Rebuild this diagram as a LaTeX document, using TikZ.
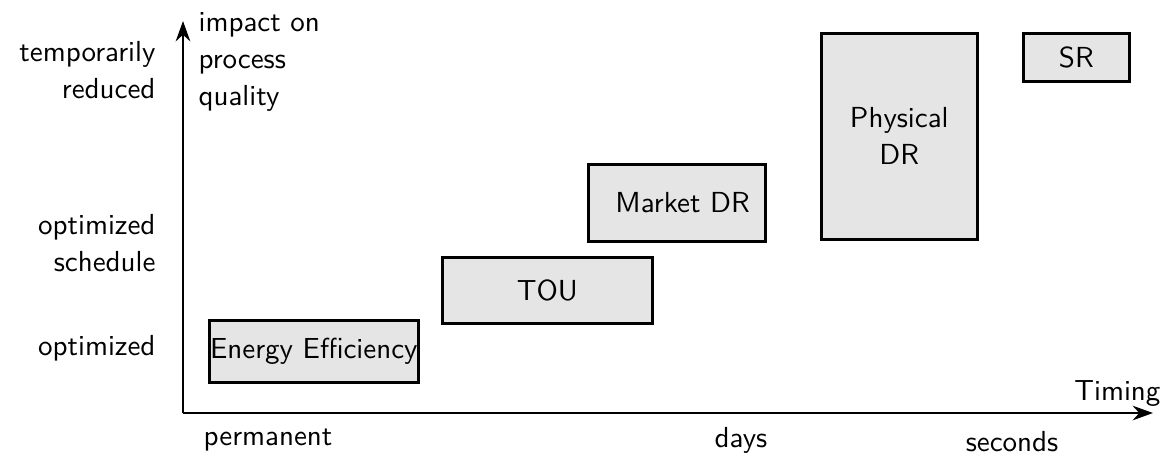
\documentclass[tikz,border=0pt]{standalone}
\renewcommand{\familydefault}{\sfdefault}
\usetikzlibrary{arrows.meta}
\begin{document}
\begin{tikzpicture}[x=0.345pt,y=-0.345pt,
  every node/.style={font=\fontsize{10}{12.7}\selectfont\sffamily, inner sep=0pt},
  axis/.style={line width=1pt,-{Stealth[length=7pt,width=5pt]}},
  box/.style={draw, line width=0.9pt, fill=black!10, inner sep=0pt, anchor=north west},
  lbl/.style={align=right, anchor=east},
]
\useasboundingbox (0,0) rectangle (1164,457);
\coordinate (O) at (183,413);
\coordinate (Ytop) at (183,21);
\coordinate (Xend) at (1153,413);
\draw[axis] (O) -- (Ytop);
\draw[axis] (O) -- (Xend);
% boxes
\node[box, minimum width=209*0.345pt, minimum height=62*0.345pt] (ee) at (208,319) {};
\node (eet) at (ee.center) {Energy Efficiency};
\node[box, minimum width=210*0.345pt, minimum height=66*0.345pt] (tou) at (441,256) {};
\node (tout) at (tou.center) {TOU};
\node[box, minimum width=177*0.345pt, minimum height=77*0.345pt] (mdr) at (587,163) {};
\node (mdrt) at ([xshift=2pt]mdr.center) {Market DR};
\node[box, minimum width=156*0.345pt, minimum height=206*0.345pt] (pdr) at (820,32) {};
\node[align=center] (pdrt) at (pdr.center) {Physical\\DR};
\node[box, minimum width=106*0.345pt, minimum height=48*0.345pt] (sr) at (1022,32) {};
\node (srt) at (sr.center) {SR};
% y labels
\node[lbl] (l1) at (156,70) {temporarily\\reduced};
\node[lbl] (l2) at (156,243) {optimized\\schedule};
\node[lbl] (l3) at (156,348) {optimized};
\node[align=left, anchor=north west] (yl) at (198,12) {impact on\\process\\quality};
% x labels
\node[anchor=south east] (xl) at (1161,407) {Timing};
\node (t1) at (268,440) {permanent};
\node (t2) at (741,440) {days};
\node (t3) at (1012,442) {seconds};
\end{tikzpicture}
\end{document}
